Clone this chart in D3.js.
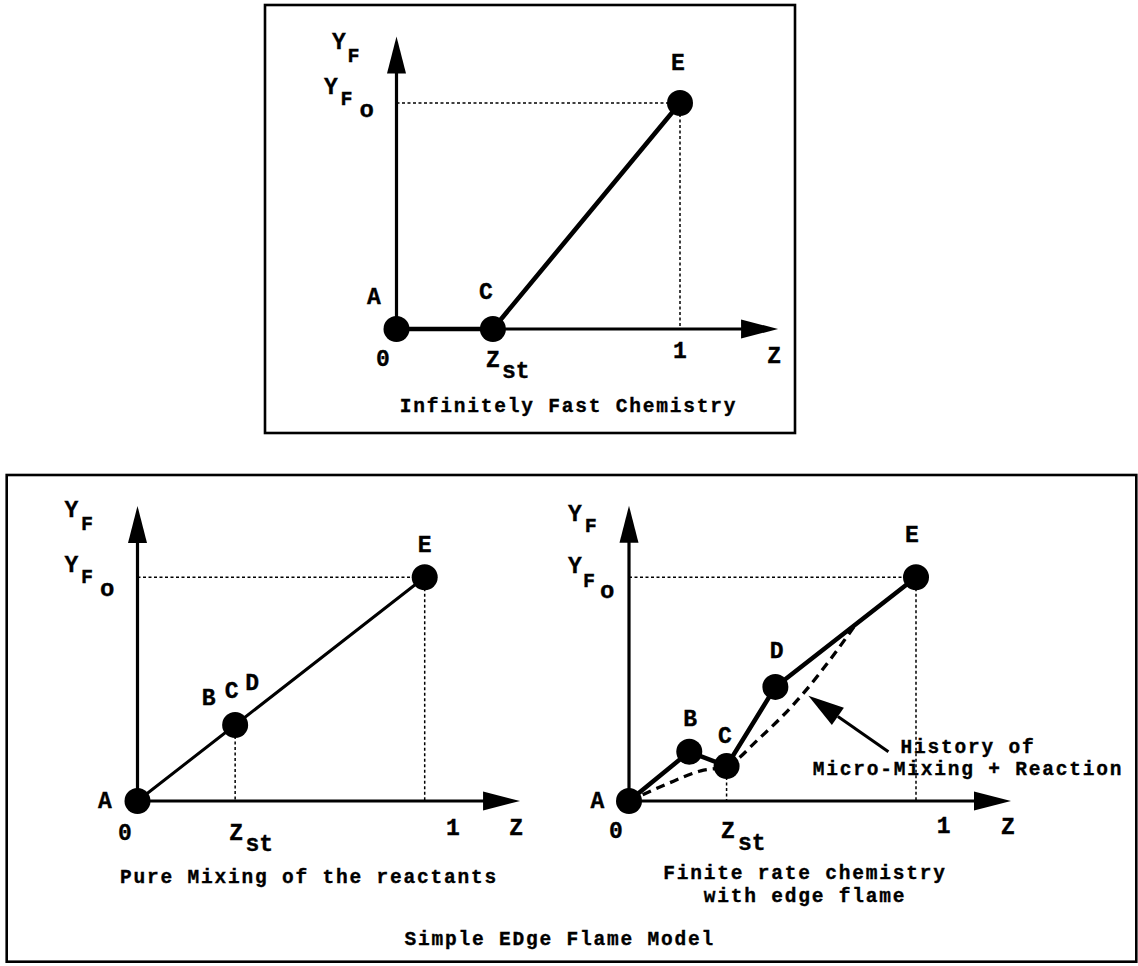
<!DOCTYPE html>
<html>
<head>
<meta charset="utf-8">
<script src="https://cdn.jsdelivr.net/npm/d3@7"></script>
<style>
  html, body { margin: 0; padding: 0; background: #fff; }
  svg { display: block; }
  text { font-family: "Liberation Mono", "Courier New", monospace; font-weight: bold; fill: #000; }
  text.lab { stroke: #000; stroke-width: 0.35; }
</style>
</head>
<body>
<svg id="fig" width="1138" height="966"></svg>
<script>
// Mixture fraction Z (0..1) against fuel mass fraction Y_F (scaled by Y_F,o)
const zSt = 0.34;

// Infinitely fast chemistry: A -> C -> E
const fastLabels = ["A", "C", "E"];
const fastZ = [0, zSt, 1];
const fastY = [0, 0, 1];

// Pure mixing of the reactants: B, C and D coincide on the mixing line
const mixLabels = ["A", "BCD", "E"];
const mixZ = [0, zSt, 1];
const mixY = [0, zSt, 1];

// Finite rate chemistry with edge flame: A -> B -> C -> D -> E
const edgeLabels = ["A", "B", "C", "D", "E"];
const edgeZ = [0, 0.21, zSt, 0.51, 1];
const edgeY = [0, 0.22, 0.156, 0.51, 1];

// History of micro-mixing + reaction (dashed)
const historyZ = [0, 0.13, 0.25, zSt, 0.45, 0.60, 0.72, 0.79];
const historyY = [0, 0.075, 0.135, 0.156, 0.275, 0.47, 0.665, 0.79];

// Annotation arrow: tail and tip, in (Z, Y_F) units
const historyArrowZ = [0.904, 0.625];
const historyArrowY = [0.22, 0.47];

// Text
const zTickLabels = ["0", "1"];
const zAxisLabel = "Z";
const yAxisLabel = ["Y", "F"];
const yFoLabel = ["Y", "F", "o"];
const zStLabel = ["Z", "st"];
const fastTitle = "Infinitely Fast Chemistry";
const mixTitle = "Pure Mixing of the reactants";
const edgeTitle = ["Finite rate chemistry", "with edge flame"];
const historyText = ["History of", "Micro-Mixing + Reaction"];
const modelTitle = "Simple EDge Flame Model";

// ---------------------------------------------------------------
const svg = d3.select("#fig");
const FS = { pt: 23, y: 23, sub: 20, subsub: 24, st: 23, title: 19.5 };
const TITLE_SPACING = 13.5 - FS.title * 0.6; // keep a 13.5px character pitch

// frames
svg.append("rect").attr("x", 265).attr("y", 5).attr("width", 530).attr("height", 428)
  .attr("fill", "none").attr("stroke", "#000").attr("stroke-width", 2.6);
svg.append("rect").attr("x", 6.7).attr("y", 475).attr("width", 1129.6).attr("height", 486.7)
  .attr("fill", "none").attr("stroke", "#000").attr("stroke-width", 2.6);

function txt(g, x, y, s, size, anchor) {
  return g.append("text").attr("class", "lab").attr("x", x).attr("y", y).attr("font-size", size)
    .attr("text-anchor", anchor || "middle").text(s);
}
function title(g, x, y, s) {
  // centre from the character pitch so trailing letter-spacing does not shift the line
  const w = s.length * 13.5 - TITLE_SPACING;
  return g.append("text").attr("class", "lab").attr("x", x - w / 2).attr("y", y)
    .attr("font-size", FS.title).attr("letter-spacing", TITLE_SPACING)
    .attr("text-anchor", "start").text(s);
}

function panel(cfg) {
  const g = svg.append("g");
  const x = d3.scaleLinear().domain([0, 1]).range(cfg.xr);
  const y = d3.scaleLinear().domain([0, 1]).range(cfg.yr);
  const x0 = x(0), y0 = y(0);
  const xTip = x(cfg.zEnd), yTip = y(cfg.yEnd);

  // dotted guides
  const dot = (x1, y1, x2, y2) => g.append("line")
    .attr("x1", x1).attr("y1", y1).attr("x2", x2).attr("y2", y2)
    .attr("stroke", "#000").attr("stroke-width", 1.5).attr("stroke-dasharray", "3,2.5");
  dot(x0, y(1), x(1), y(1));
  dot(x(1), y(1), x(1), y0);
  cfg.guides.forEach(i => dot(x(cfg.z[i]), y(cfg.y[i]), x(cfg.z[i]), y0));

  // axes with arrowheads
  g.append("line").attr("x1", x0).attr("y1", y0).attr("x2", xTip - 20).attr("y2", y0)
    .attr("stroke", "#000").attr("stroke-width", 3.2);
  g.append("line").attr("x1", x0).attr("y1", y0).attr("x2", x0).attr("y2", yTip + 20)
    .attr("stroke", "#000").attr("stroke-width", 3.2);
  const hl = 37, hw = 9.5;
  g.append("path").attr("d", `M${xTip},${y0}L${xTip - hl},${y0 - hw}L${xTip - hl},${y0 + hw}Z`);
  g.append("path").attr("d", `M${x0},${yTip}L${x0 - hw},${yTip + hl}L${x0 + hw},${yTip + hl}Z`);

  // history curve
  if (cfg.history) {
    const hz = cfg.history[0], hy = cfg.history[1];
    g.append("path")
      .attr("d", d3.line().x(i => x(hz[i])).y(i => y(hy[i])).curve(d3.curveMonotoneX)(d3.range(hz.length)))
      .attr("fill", "none").attr("stroke", "#000").attr("stroke-width", 3.3)
      .attr("stroke-dasharray", "9,6");
  }

  // state path
  const idx = d3.range(cfg.z.length);
  g.append("path")
    .attr("d", d3.line().x(i => x(cfg.z[i])).y(i => y(cfg.y[i]))(idx))
    .attr("fill", "none").attr("stroke", "#000").attr("stroke-width", cfg.lw)
    .attr("stroke-linejoin", "round");

  g.selectAll("circle.pt").data(idx).join("circle").attr("class", "pt")
    .attr("cx", i => x(cfg.z[i])).attr("cy", i => y(cfg.y[i])).attr("r", 13);

  // point labels
  idx.forEach(i => {
    const lab = cfg.labels[i];
    const off = cfg.labelOff[i];
    if (lab.length === 1) {
      txt(g, x(cfg.z[i]) + off[0], y(cfg.y[i]) + off[1], lab, FS.pt);
    } else {
      lab.split("").forEach((c, k) =>
        txt(g, x(cfg.z[i]) + off[k][0], y(cfg.y[i]) + off[k][1], c, FS.pt));
    }
  });

  // axis labels
  const L = cfg.lay;
  txt(g, x0 + L.zero[0], y0 + L.zero[1], zTickLabels[0], FS.pt);
  txt(g, x(1) + L.one[0], y0 + L.one[1], zTickLabels[1], FS.pt);
  txt(g, xTip + L.z[0], y0 + L.z[1], zAxisLabel, FS.pt);
  txt(g, x(zSt) + L.zst[0], y0 + L.zst[1], zStLabel[0], FS.pt);
  txt(g, x(zSt) + L.st[0], y0 + L.st[1], zStLabel[1], FS.st, "start");

  txt(g, x0 + L.yf[0], yTip + L.yf[1], yAxisLabel[0], FS.y, "start");
  txt(g, x0 + L.yfF[0], yTip + L.yfF[1], yAxisLabel[1], FS.sub, "start");
  txt(g, x0 + L.yo[0], y(1) + L.yo[1], yFoLabel[0], FS.y, "start");
  txt(g, x0 + L.yoF[0], y(1) + L.yoF[1], yFoLabel[1], FS.sub, "start");
  txt(g, x0 + L.yoO[0], y(1) + L.yoO[1], yFoLabel[2], FS.subsub, "start");

  cfg.titles.forEach(t => title(g, t[1], t[2], t[0]));

  if (cfg.arrow) {
    const ax = cfg.arrow[0].map(x), ay = cfg.arrow[1].map(y);
    const ang = Math.atan2(ay[1] - ay[0], ax[1] - ax[0]);
    const hl2 = 36, hw2 = 10.5;
    const bx = ax[1] - hl2 * Math.cos(ang), by = ay[1] - hl2 * Math.sin(ang);
    g.append("line").attr("x1", ax[0]).attr("y1", ay[0]).attr("x2", bx).attr("y2", by)
      .attr("stroke", "#000").attr("stroke-width", 3);
    const px = -Math.sin(ang) * hw2, py = Math.cos(ang) * hw2;
    g.append("path").attr("d", `M${ax[1]},${ay[1]}L${bx + px},${by + py}L${bx - px},${by - py}Z`);
  }
  return { x, y };
}

// Infinitely fast chemistry
panel({
  xr: [396.5, 680], yr: [329, 103], zEnd: 1.346, yEnd: 1.294,
  z: fastZ, y: fastY, labels: fastLabels, lw: 4.6, guides: [],
  labelOff: [[-22.5, -25], [-7, -30], [-2, -33]],
  lay: { zero: [-13.5, 37], one: [0, 29], z: [-4, 33.5], zst: [0, 37.5], st: [9, 49],
         yf: [-64.5, 12], yfF: [-49, 25.5], yo: [-72.5, -9.5], yoF: [-56, 2], yoO: [-37, 13.7] },
  titles: [[fastTitle, 567.5, 411.7]]
});

// Pure mixing
panel({
  xr: [137.5, 424.7], yr: [801, 577.3], zEnd: 1.332, yEnd: 1.319,
  z: mixZ, y: mixY, labels: mixLabels, lw: 3, guides: [1],
  labelOff: [[-32.5, 7.3], [[-26.6, -20], [-3.6, -26.6], [17, -35]], [0, -25.6]],
  lay: { zero: [-12.5, 39], one: [28.3, 34], z: [-4, 34], zst: [1, 39], st: [10.4, 50],
         yf: [-73, 10.7], yfF: [-56.5, 24], yo: [-73, -5.6], yoF: [-56.5, 6], yoO: [-37.5, 18.7] },
  titles: [[mixTitle, 308, 883.3]]
});

// Finite rate chemistry with edge flame
panel({
  xr: [629, 916], yr: [801, 577.3], zEnd: 1.331, yEnd: 1.32,
  z: edgeZ, y: edgeY, labels: edgeLabels, lw: 4.5, guides: [2],
  history: [historyZ, historyY], arrow: [historyArrowZ, historyArrowY],
  labelOff: [[-31.6, 7.3], [1, -26], [-1.6, -22.7], [1.2, -28.7], [-4, -35.6]],
  lay: { zero: [-13, 37.3], one: [27.6, 31.7], z: [-3, 33], zst: [1.4, 37.3], st: [11.4, 49],
         yf: [-61, 15], yfF: [-44.2, 26.7], yo: [-61, -4], yoF: [-46, 9.4], yoO: [-29, 21] },
  titles: [[edgeTitle[0], 804, 879.3], [edgeTitle[1], 804, 901.7],
           [historyText[0], 967, 752.7], [historyText[1], 967, 775]]
});

title(svg, 558.8, 945, modelTitle);
</script>
</body>
</html>
